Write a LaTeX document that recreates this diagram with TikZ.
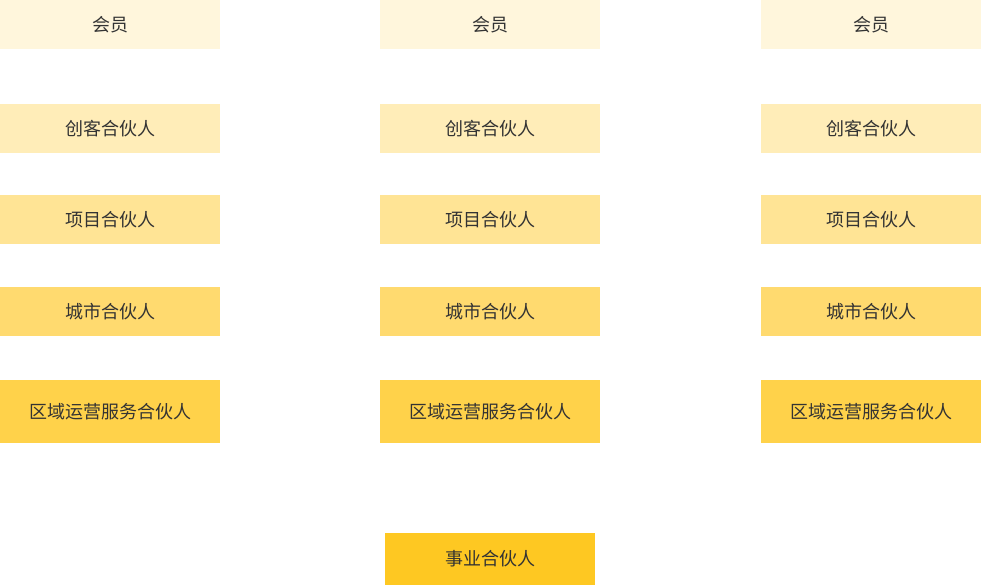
\documentclass[tikz,border=0pt]{standalone}
\usepackage{fontspec}
\newfontfamily\cjk{Noto Sans CJK SC}
\usepackage{tikz}
\definecolor{lvA}{HTML}{FFF6DC}
\definecolor{lvB}{HTML}{FFEDB8}
\definecolor{lvC}{HTML}{FFE495}
\definecolor{lvD}{HTML}{FFDA6F}
\definecolor{lvE}{HTML}{FFD24A}
\definecolor{lvF}{HTML}{FEC822}
\definecolor{txt}{HTML}{333333}
\tikzset{
  lvbox/.style={draw=none,inner sep=0,minimum width=165pt,minimum height=36.75pt,
    font=\cjk\fontsize{13.5}{15}\selectfont,text=txt},
  tallbox/.style={lvbox,minimum height=47.25pt},
}
\begin{document}
\begin{tikzpicture}[x=0.75pt,y=-0.75pt]
\useasboundingbox(0,0)rectangle(981,585);
%left column
\node[lvbox,fill=lvA](la)at(110,24.5){会员};
\node[lvbox,fill=lvB](lb)at(110,128.5){创客合伙人};
\node[lvbox,fill=lvC](lc)at(110,219.5){项目合伙人};
\node[lvbox,fill=lvD](ld)at(110,311.5){城市合伙人};
\node[tallbox,fill=lvE](le)at(110,411.5){区域运营服务合伙人};
%middle column
\node[lvbox,fill=lvA](ma)at(490,24.5){会员};
\node[lvbox,fill=lvB](mb)at(490,128.5){创客合伙人};
\node[lvbox,fill=lvC](mc)at(490,219.5){项目合伙人};
\node[lvbox,fill=lvD](md)at(490,311.5){城市合伙人};
\node[tallbox,fill=lvE](me)at(490,411.5){区域运营服务合伙人};
%right column
\node[lvbox,fill=lvA](ra)at(871,24.5){会员};
\node[lvbox,fill=lvB](rb)at(871,128.5){创客合伙人};
\node[lvbox,fill=lvC](rc)at(871,219.5){项目合伙人};
\node[lvbox,fill=lvD](rd)at(871,311.5){城市合伙人};
\node[tallbox,fill=lvE](re)at(871,411.5){区域运营服务合伙人};
%top level
\node[lvbox,fill=lvF,minimum width=157.5pt,minimum height=39pt](top)at(490,559){事业合伙人};
\end{tikzpicture}
\end{document}
